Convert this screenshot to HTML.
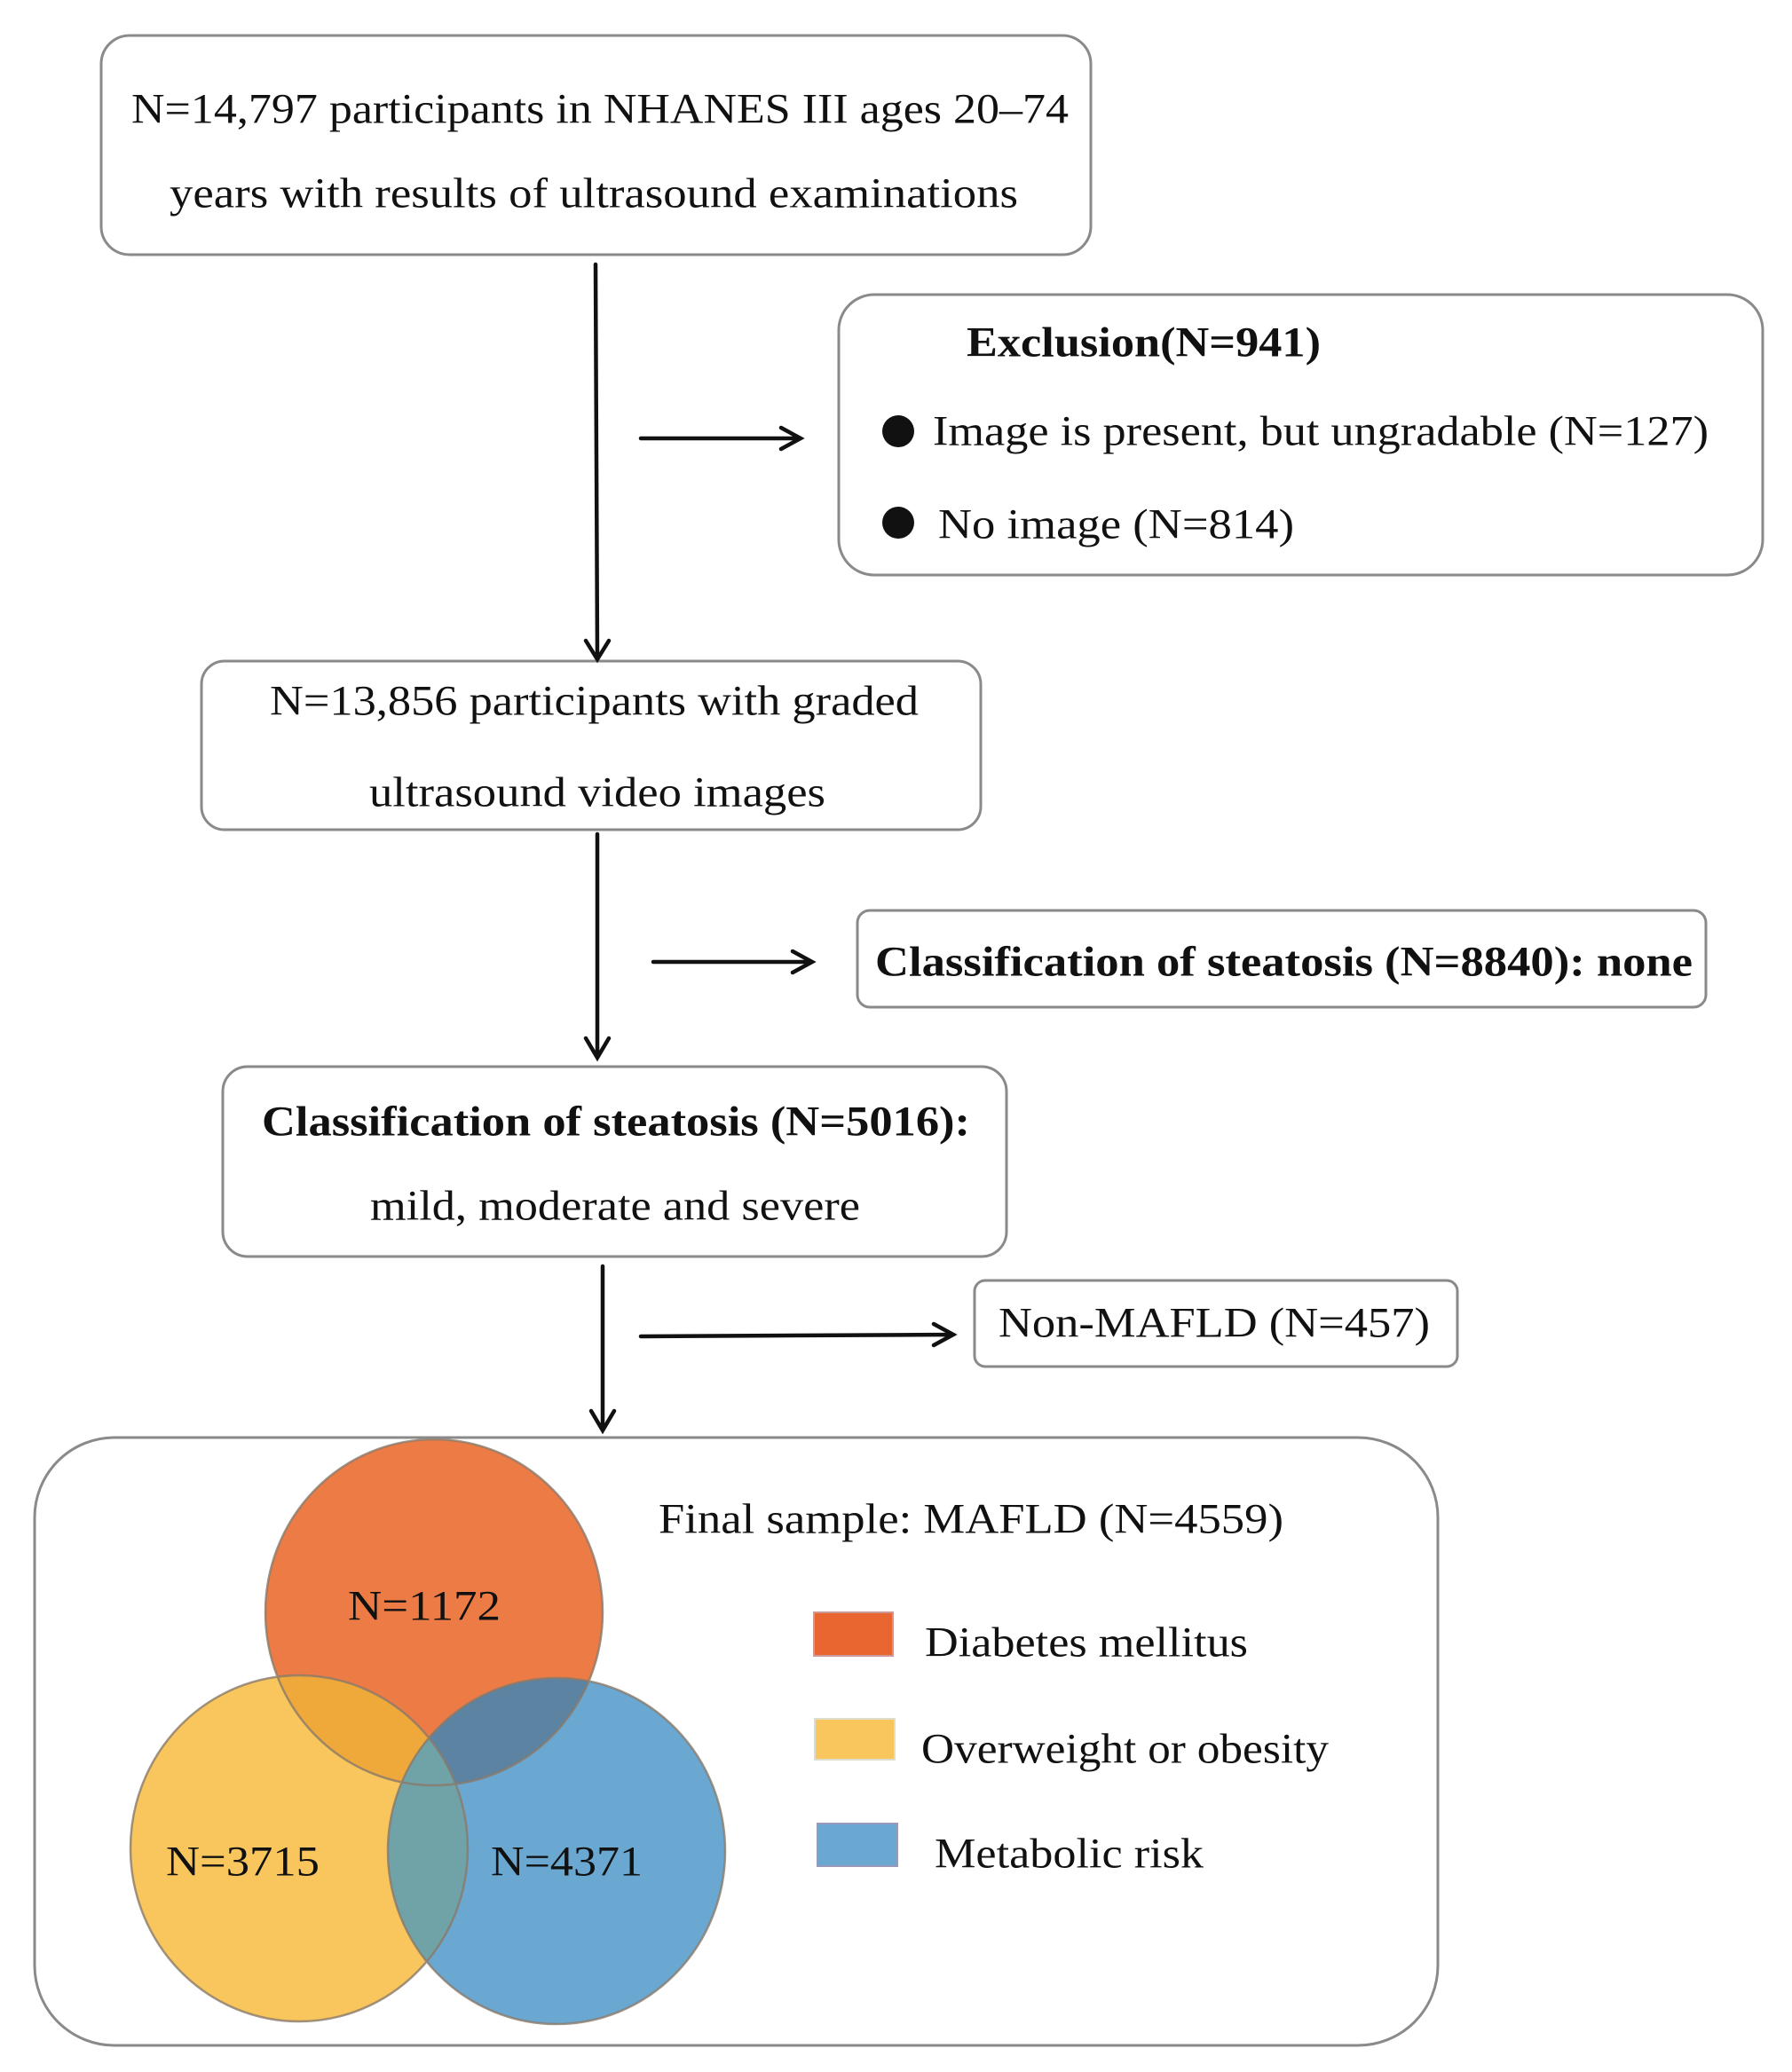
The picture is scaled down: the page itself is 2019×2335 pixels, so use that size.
<!DOCTYPE html>
<html><head><meta charset="utf-8"><style>html,body{margin:0;padding:0;background:#fff}svg{display:block}</style></head>
<body>
<svg width="2019" height="2335" viewBox="0 0 2019 2335" xmlns="http://www.w3.org/2000/svg" font-family="'Liberation Serif', serif" font-size="48" fill="#111">
<defs>
<clipPath id="cO"><ellipse cx="489" cy="1817" rx="190" ry="195"/></clipPath>
<clipPath id="cY"><ellipse cx="337" cy="2083" rx="190" ry="195"/></clipPath>
<clipPath id="cB"><ellipse cx="627" cy="2086" rx="190" ry="195"/></clipPath>
</defs>
<g fill="#fff" stroke="#8a8a8a" stroke-width="3">
<rect x="114" y="40" width="1115" height="247" rx="32"/>
<rect x="945" y="332" width="1041" height="316" rx="40"/>
<rect x="227" y="745" width="878" height="190" rx="26"/>
<rect x="966" y="1026" width="956" height="109" rx="14"/>
<rect x="251" y="1202" width="883" height="214" rx="28"/>
<rect x="1098" y="1443" width="544" height="97" rx="12"/>
<rect x="39" y="1620" width="1581" height="685" rx="90"/>
</g>
<g stroke="#111" stroke-width="4.5" fill="none" stroke-linecap="round">
<path d="M671 298 L673 741 M660 722 L673 743 L686 722"/>
<path d="M722 494 L900 494 M880 482 L902 494 L880 506"/>
<path d="M673 940 L673 1190 M660 1170 L673 1192 L686 1170"/>
<path d="M736 1084 L913 1084 M893 1072 L915 1084 L893 1096"/>
<path d="M679 1427 L679 1610 M666 1590 L679 1612 L692 1590"/>
<path d="M722 1506 L1072 1504 M1052 1492 L1074 1504 L1052 1516"/>
</g>
<g dominant-baseline="central">
<text x="148" y="123" textLength="1056" lengthAdjust="spacingAndGlyphs">N=14,797 participants in NHANES III ages 20–74</text>
<text x="191" y="218" textLength="956" lengthAdjust="spacingAndGlyphs">years with results of ultrasound examinations</text>
<text x="1089" y="386" font-weight="bold" textLength="399" lengthAdjust="spacingAndGlyphs">Exclusion(N=941)</text>
<circle cx="1012" cy="486" r="18"/>
<text x="1051" y="486" textLength="874" lengthAdjust="spacingAndGlyphs">Image is present, but ungradable (N=127)</text>
<circle cx="1012" cy="589" r="18"/>
<text x="1057" y="591" textLength="401" lengthAdjust="spacingAndGlyphs">No  image  (N=814)</text>
<text x="304" y="790" textLength="731" lengthAdjust="spacingAndGlyphs">N=13,856 participants with graded</text>
<text x="416" y="893" textLength="514" lengthAdjust="spacingAndGlyphs">ultrasound video images</text>
<text x="986" y="1084" font-weight="bold" textLength="921" lengthAdjust="spacingAndGlyphs">Classification  of steatosis (N=8840): none</text>
<text x="295" y="1264" font-weight="bold" textLength="798" lengthAdjust="spacingAndGlyphs">Classification  of steatosis (N=5016):</text>
<text x="417" y="1359" textLength="552" lengthAdjust="spacingAndGlyphs">mild, moderate and severe</text>
<text x="1125" y="1491" textLength="486" lengthAdjust="spacingAndGlyphs">Non-MAFLD (N=457)</text>
</g>
<ellipse cx="489" cy="1817" rx="190" ry="195" fill="#EC7B45"/>
<ellipse cx="337" cy="2083" rx="190" ry="195" fill="#F8C65C"/>
<ellipse cx="627" cy="2086" rx="190" ry="195" fill="#6AA7D1"/>
<g clip-path="url(#cO)"><ellipse cx="337" cy="2083" rx="190" ry="195" fill="#EFA93A"/><ellipse cx="627" cy="2086" rx="190" ry="195" fill="#5D83A3"/></g>
<g clip-path="url(#cY)"><ellipse cx="627" cy="2086" rx="190" ry="195" fill="#6FA3A8"/></g>
<g fill="none" stroke="#8a7a6a" stroke-width="2.5" opacity="0.8">
<ellipse cx="489" cy="1817" rx="190" ry="195"/>
<ellipse cx="337" cy="2083" rx="190" ry="195"/>
<ellipse cx="627" cy="2086" rx="190" ry="195"/>
</g>
<rect x="917" y="1817" width="89" height="49" fill="#EA6630" stroke="#c99" stroke-width="2"/>
<rect x="918" y="1937" width="90" height="46" fill="#F8C65C" stroke="#ddc" stroke-width="2"/>
<rect x="921" y="2055" width="90" height="48" fill="#6AA7D1" stroke="#99b" stroke-width="2"/>
<g dominant-baseline="central">
<text x="392" y="1810" textLength="172" lengthAdjust="spacingAndGlyphs">N=1172</text>
<text x="187" y="2098" textLength="173" lengthAdjust="spacingAndGlyphs">N=3715</text>
<text x="553" y="2098" textLength="171" lengthAdjust="spacingAndGlyphs">N=4371</text>
<text x="742" y="1712" textLength="704" lengthAdjust="spacingAndGlyphs">Final sample: MAFLD (N=4559)</text>
<text x="1042" y="1851" textLength="364" lengthAdjust="spacingAndGlyphs">Diabetes mellitus</text>
<text x="1038" y="1971" textLength="459" lengthAdjust="spacingAndGlyphs">Overweight or obesity</text>
<text x="1053" y="2089" textLength="303" lengthAdjust="spacingAndGlyphs">Metabolic risk</text>
</g>
</svg>
</body></html>
